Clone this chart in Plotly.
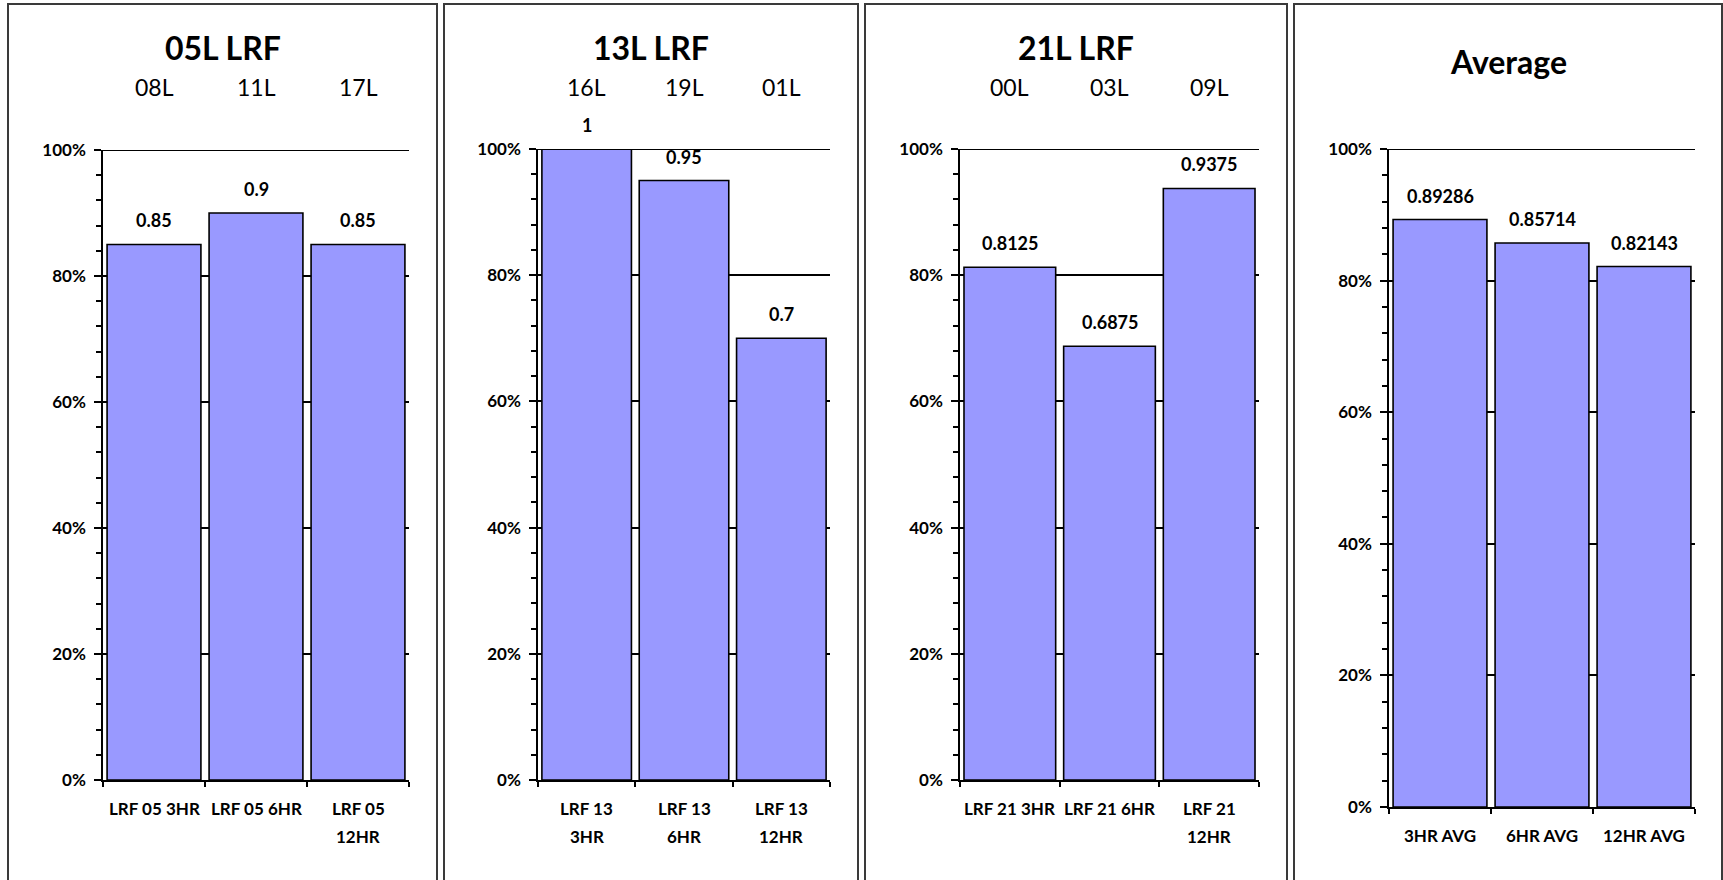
import plotly.graph_objects as go

# ---- data -------------------------------------------------------------
titles = ["05L LRF", "13L LRF", "21L LRF", "Average"]

cats_05 = ["LRF 05 3HR", "LRF 05 6HR", "LRF 05<br>12HR"]
vals_05 = [0.85, 0.9, 0.85]
runs_05 = ["08L", "11L", "17L"]

cats_13 = ["LRF 13<br>3HR", "LRF 13<br>6HR", "LRF 13<br>12HR"]
vals_13 = [1.0, 0.95, 0.7]
runs_13 = ["16L", "19L", "01L"]

cats_21 = ["LRF 21 3HR", "LRF 21 6HR", "LRF 21<br>12HR"]
vals_21 = [0.8125, 0.6875, 0.9375]
runs_21 = ["00L", "03L", "09L"]

cats_avg = ["3HR AVG", "6HR AVG", "12HR AVG"]
vals_avg = [0.89286, 0.85714, 0.82143]
runs_avg = []

panels = [
    (titles[0], cats_05, vals_05, runs_05),
    (titles[1], cats_13, vals_13, runs_13),
    (titles[2], cats_21, vals_21, runs_21),
    (titles[3], cats_avg, vals_avg, runs_avg),
]

# ---- layout geometry (pixels) -----------------------------------------
W, H = 1723, 880
plot_x = [(103, 409), (538, 830), (960, 1259), (1389, 1695)]
plot_y = [(150, 780), (149, 780), (149, 780), (149, 807)]   # (top, bottom)
frames = [(8, 437), (444, 858), (865, 1287), (1294, 1722)]
title_y = [47, 47, 47, 62]
runs_y = 87

FONT = "Lato"
BAR_FILL = "#9999FF"


def px_x(v):
    return v / W


def px_y(v):
    return 1 - v / H


fig = go.Figure()
annotations = []
shapes = []

for i, (title, cats, vals, runs) in enumerate(panels):
    n = "" if i == 0 else str(i + 1)
    xa, ya = "x" + n, "y" + n
    x0, x1 = plot_x[i]
    ytop, ybot = plot_y[i]

    fig.add_trace(go.Bar(
        x=cats, y=vals, xaxis=xa, yaxis=ya,
        marker=dict(color=BAR_FILL, line=dict(color="black", width=1.6)),
        cliponaxis=False, showlegend=False, hoverinfo="x+y",
    ))

    fig.layout["xaxis" + n] = dict(
        domain=[px_x(x0), px_x(x1)], anchor=ya, type="category",
        automargin=False,
        showline=True, linecolor="black", linewidth=1.5,
        ticks="outside", tickson="boundaries", ticklen=5,
        tickcolor="black", tickwidth=1.5,
        showticklabels=False, showgrid=False, fixedrange=True,
    )
    fig.layout["yaxis" + n] = dict(
        domain=[px_y(ybot), px_y(ytop)], anchor=xa, range=[0, 1],
        automargin=False,
        tickformat=".0%", dtick=0.2, tick0=0,
        showline=True, linecolor="black", linewidth=1.5,
        ticks="outside", ticklen=7, tickcolor="black", tickwidth=1.5,
        minor=dict(dtick=0.04, ticks="outside", ticklen=5,
                   tickcolor="black", tickwidth=1.5, showgrid=False),
        showgrid=True, gridcolor="black", gridwidth=1.5,
        zeroline=False, ticklabelstandoff=5,
        tickfont=dict(family=FONT, size=17, color="black", weight="bold"),
        fixedrange=True,
    )

    # gridline along the 100% level
    shapes.append(dict(
        type="line", xref=xa + " domain", yref=ya, x0=0, x1=1, y0=1, y1=1,
        line=dict(color="black", width=2), layer="above",
    ))

    # value labels above each bar
    for c, v in zip(cats, vals):
        annotations.append(dict(
            x=c, y=v, xref=xa, yref=ya, text=f"{v:g}", showarrow=False,
            yanchor="bottom", yshift=11,
            font=dict(family=FONT, size=18, color="black", weight="bold"),
        ))

    # category labels below the axis, one annotation per line
    for c in cats:
        for k, line in enumerate(c.split("<br>")):
            annotations.append(dict(
                x=c, xref=xa, y=px_y(ybot + 28 + 28 * k), yref="paper",
                text=line, showarrow=False, yanchor="middle",
                font=dict(family=FONT, size=17, color="black", weight="bold"),
            ))

    # runway labels above the plot
    for c, r in zip(cats, runs):
        annotations.append(dict(
            x=c, xref=xa, y=px_y(runs_y), yref="paper", text=r,
            showarrow=False, yanchor="middle",
            font=dict(family=FONT, size=23, color="black"),
        ))

    # panel title
    fx0, fx1 = frames[i]
    annotations.append(dict(
        x=px_x((fx0 + fx1) / 2), y=px_y(title_y[i]), xref="paper",
        yref="paper", text=title, showarrow=False,
        xanchor="center", yanchor="middle",
        font=dict(family=FONT, size=32, color="black", weight="bold"),
    ))

    # panel frame
    shapes.append(dict(
        type="rect", xref="paper", yref="paper",
        x0=px_x(fx0), x1=px_x(fx1), y0=px_y(H + 10), y1=px_y(4),
        line=dict(color="#3a3a3a", width=2), fillcolor="rgba(0,0,0,0)",
        layer="below",
    ))

fig.update_layout(
    width=W, height=H, margin=dict(l=0, r=0, t=0, b=0, pad=0),
    autosize=False,
    paper_bgcolor="white", plot_bgcolor="white",
    bargap=0.08, annotations=annotations, shapes=shapes,
    font=dict(family=FONT, color="black"),
)

fig.write_html("out.html", config={"displayModeBar": False})
